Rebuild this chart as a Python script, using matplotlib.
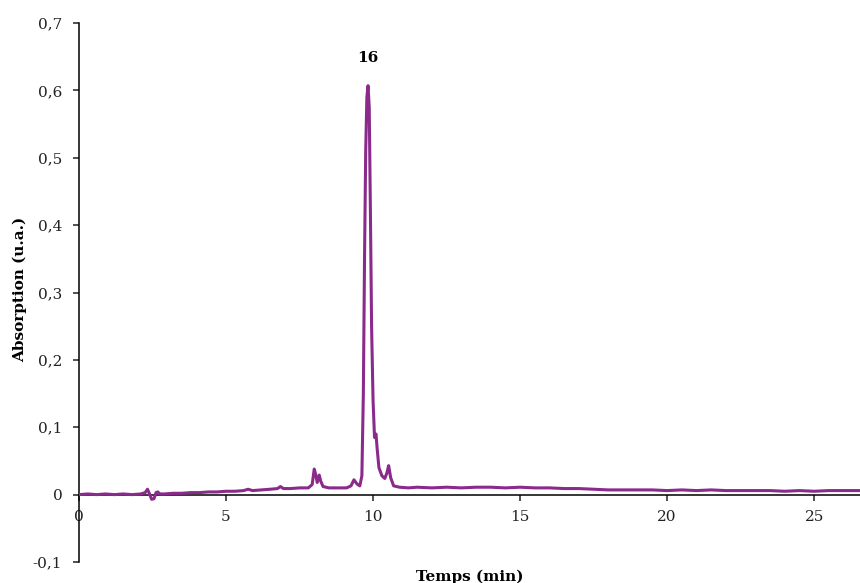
import matplotlib.pyplot as plt

# chromatogram trace
temps = [0.0, 0.3, 0.6, 0.9, 1.2, 1.5, 1.8, 2.1, 2.25, 2.33, 2.40, 2.47, 2.55, 2.62, 2.68, 2.75,
         2.9, 3.2, 3.5, 3.8, 4.1, 4.4, 4.7, 5.0, 5.3, 5.6, 5.75, 5.9, 6.2, 6.5, 6.75, 6.85, 6.95,
         7.2, 7.5, 7.8, 7.93, 8.0, 8.05, 8.1, 8.17, 8.22, 8.3, 8.5, 8.8, 9.1, 9.25, 9.35, 9.45,
         9.55, 9.62, 9.67, 9.71, 9.75, 9.79, 9.83, 9.87, 9.91, 9.95, 10.0, 10.05, 10.1, 10.14,
         10.2, 10.3, 10.4, 10.47, 10.53, 10.6, 10.7, 10.9, 11.2, 11.5, 12.0, 12.5, 13.0, 13.5,
         14.0, 14.5, 15.0, 15.5, 16.0, 16.5, 17.0, 17.5, 18.0, 18.5, 19.0, 19.5, 20.0, 20.5,
         21.0, 21.5, 22.0, 22.5, 23.0, 23.5, 24.0, 24.5, 25.0, 25.5, 26.0, 26.6]
absorption = [0.000, 0.001, 0.000, 0.001, 0.000, 0.001, 0.000, 0.001, 0.003, 0.008, 0.001, -0.007,
              -0.006, 0.003, 0.004, 0.001, 0.001, 0.002, 0.002, 0.003, 0.003, 0.004, 0.004, 0.005,
              0.005, 0.006, 0.008, 0.006, 0.007, 0.008, 0.009, 0.012, 0.009, 0.009, 0.010, 0.010,
              0.015, 0.038, 0.030, 0.018, 0.029, 0.020, 0.012, 0.010, 0.010, 0.010, 0.013, 0.022,
              0.016, 0.013, 0.028, 0.150, 0.350, 0.510, 0.590, 0.607, 0.575, 0.420, 0.250, 0.140,
              0.085, 0.090, 0.068, 0.040, 0.028, 0.024, 0.032, 0.043, 0.025, 0.013, 0.011, 0.010,
              0.011, 0.010, 0.011, 0.010, 0.011, 0.011, 0.010, 0.011, 0.010, 0.010, 0.009, 0.009,
              0.008, 0.007, 0.007, 0.007, 0.007, 0.006, 0.007, 0.006, 0.007, 0.006, 0.006, 0.006,
              0.006, 0.005, 0.006, 0.005, 0.006, 0.006, 0.006]

xticks = [0, 5, 10, 15, 20, 25]
yticks = [-0.1, 0, 0.1, 0.2, 0.3, 0.4, 0.5, 0.6, 0.7]
ylabels = ["-0,1", "0", "0,1", "0,2", "0,3", "0,4", "0,5", "0,6", "0,7"]

plt.rcParams['font.family'] = ['DejaVu Serif']

fig = plt.figure(figsize=(8.6, 5.83), dpi=100)
ax = fig.add_axes([79/860, 1-562/583, 1-79/860, 539/583])

ax.plot(temps, absorption, color='#8a2b8c', lw=2.2, zorder=3)

ax.set_xlim(0, 26.56)
ax.set_ylim(-0.1, 0.7)
ax.spines['top'].set_visible(False)
ax.spines['right'].set_visible(False)
ax.spines['bottom'].set_position(('data', 0))
ax.spines['left'].set_linewidth(1.1)
ax.spines['bottom'].set_linewidth(1.1)

ax.set_xticks(xticks)
ax.set_xticklabels([str(t) for t in xticks])
ax.set_yticks(yticks)
ax.set_yticklabels(ylabels)
ax.tick_params(axis='both', direction='out', length=4, width=1.1, labelsize=11, colors='#222222')
ax.tick_params(axis='x', pad=7)
ax.tick_params(axis='y', pad=8)

ax.text(9.82, 0.648, '16', ha='center', va='center', fontsize=11, fontweight='bold')

ax.set_xlabel('Temps (min)', fontsize=11, fontweight='bold')
ax.xaxis.set_label_coords(0.5, -0.015)
ax.xaxis.label.set_va('top')
ax.set_ylabel('Absorption (u.a.)', fontsize=11, fontweight='bold')
ax.yaxis.set_label_coords(-0.0666, 0.505)

fig.savefig('out.png', dpi=100)
